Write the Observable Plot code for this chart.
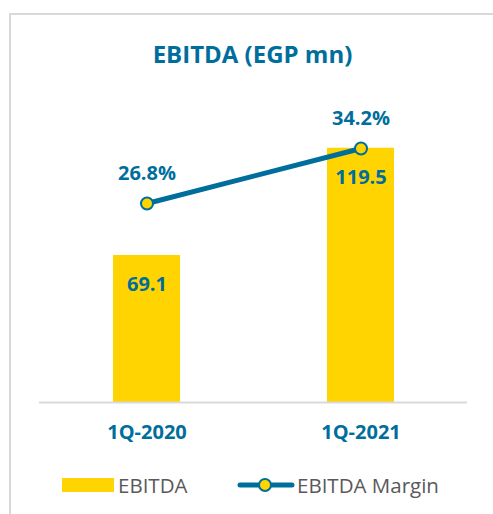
<!DOCTYPE html>
<html>
<head>
<meta charset="utf-8">
<script src="https://cdn.jsdelivr.net/npm/d3@7"></script>
<script src="https://cdn.jsdelivr.net/npm/@observablehq/plot@0.6"></script>
<style>
  html, body { margin: 0; padding: 0; background: #fff; }
  #root { position: relative; width: 493px; height: 514px; overflow: hidden; font-family: "Open Sans", sans-serif; }
  #frame { position: absolute; left: 9px; top: 13px; width: 520px; height: 540px; border-left: 2px solid #d9d9d9; border-top: 2px solid #d9d9d9; box-sizing: border-box; }
  #title { position: absolute; left: 0; width: 505px; top: 38px; text-align: center; font-weight: 700; font-size: 24px; color: #006E9C; line-height: 32px; }
  #chart { position: absolute; left: 0; top: 90px; }
  #legend { position: absolute; left: 0; top: 470px; width: 493px; height: 30px; }
  .lg { position: absolute; top: 0; font-size: 20.5px; color: #595959; line-height: 30px; }
</style>
</head>
<body>
<div id="root">
  <div id="frame"></div>
  <div id="title">EBITDA (EGP mn)</div>
  <div id="chart"></div>
  <div id="legend">
    <svg width="493" height="30" style="position:absolute;left:0;top:0">
      <rect x="62" y="8" width="52" height="14" fill="#FFD400"></rect>
      <line x1="240" x2="292" y1="15" y2="15" stroke="#006E9C" stroke-width="5" stroke-linecap="round"></line>
      <circle cx="265" cy="15" r="6" fill="#FFD400" stroke="#006E9C" stroke-width="2"></circle>
    </svg>
    <div class="lg" style="left:118px">EBITDA</div>
    <div class="lg" style="left:297px">EBITDA Margin</div>
  </div>
</div>
<script>
const categories = ["1Q-2020", "1Q-2021"];
const ebitda = [69.1, 119.5];
const margin = [26.8, 34.2];
const ebitdaLabels = ["69.1", "119.5"];
const marginLabels = ["26.8%", "34.2%"];

const yMax = 141;      // primary axis max (EGP mn)
const mMax = 40.4;     // secondary axis max (%)
const blue = "#006E9C";
const yellow = "#FFD400";

const rows = categories.map((c, i) => ({
  cat: c,
  ebitda: ebitda[i],
  m: margin[i] * yMax / mMax,
  eLabel: ebitdaLabels[i],
  mLabel: marginLabels[i]
}));

const chart = Plot.plot({
  width: 493,
  height: 360,
  marginLeft: 39,
  marginRight: 26,
  marginTop: 12,
  marginBottom: 48,
  style: { fontFamily: "Open Sans, sans-serif", background: "transparent" },
  x: { domain: categories, paddingInner: 0.687, paddingOuter: 0.3435, label: null, tickSize: 0, tickPadding: 22 },
  y: { domain: [0, yMax], axis: null },
  marks: [
    Plot.barY(rows, { x: "cat", y: "ebitda", fill: yellow }),
    Plot.ruleY([0], { stroke: "#d9d9d9", strokeWidth: 2 }),
    Plot.text(rows, { x: "cat", y: "ebitda", text: "eLabel", dy: 29, fill: blue, fontWeight: 700, fontSize: 20 }),
    Plot.line(rows, { x: "cat", y: "m", stroke: blue, strokeWidth: 5, strokeLinecap: "round" }),
    Plot.dot(rows, { x: "cat", y: "m", r: 6, fill: yellow, stroke: blue, strokeWidth: 2 }),
    Plot.text(rows, { x: "cat", y: "m", text: "mLabel", dy: -30, fill: blue, fontWeight: 700, fontSize: 20 }),
    Plot.axisX({ tickSize: 0, tickPadding: 22, fill: blue, fontWeight: 700, fontSize: 20, label: null })
  ]
});
document.getElementById("chart").appendChild(chart);
</script>
</body>
</html>
